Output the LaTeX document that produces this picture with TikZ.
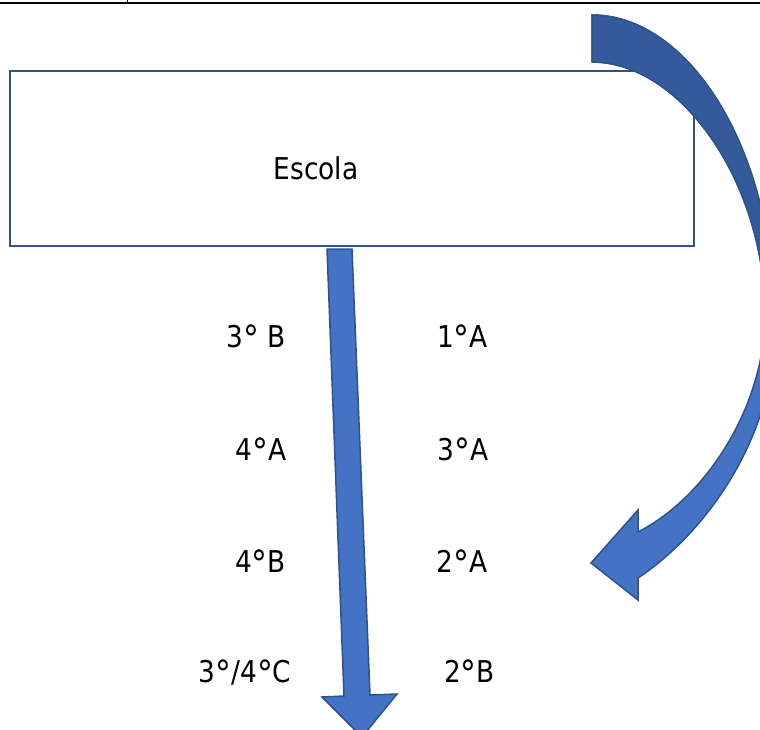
\documentclass[tikz,border=0pt]{standalone}
\usepackage{fontspec}
\setmainfont{DejaVu Sans}[FakeStretch=0.88]
\definecolor{arrowblue}{HTML}{4472C4}
\definecolor{arrowedge}{HTML}{2F528F}
\definecolor{arrowdark}{HTML}{345A9B}
\newcommand{\ordo}{{\fontsize{36}{36}\selectfont\raisebox{-4.5pt}{°}}}
\tikzset{
  lbl/.style={anchor=base,inner sep=0pt,font=\fontsize{30}{36}\selectfont},
  boxstyle/.style={draw=arrowedge,line width=1.5pt,fill=white},
  arrowshape/.style={fill=arrowblue,draw=arrowedge,line width=1.5pt,line join=miter},
  arrowshapedark/.style={fill=arrowdark,draw=arrowedge,line width=1.5pt,line join=miter},
}
\begin{document}
\begin{tikzpicture}[x=1pt,y=-1pt]
\useasboundingbox (0,0) rectangle (760,729);
\clip (0,0) rectangle (760,729);
% top rule
\draw[line width=2.6pt] (0,3) -- (760,3);
\draw[line width=1pt] (127,0) -- (127,3);
% box
\node[boxstyle,minimum width=684pt,minimum height=175pt,inner sep=0pt] (box) at (352,158.5) {};
\node[lbl] (escola) at (316,179) {Escola};
% straight arrow
\draw[arrowshape] (327,249) -- (352,249) -- (370,695) -- (397,694) -- (362,737) -- (322,697) -- (344,696) -- cycle;
% curved arrow
\def\curvedpath{(592,15) .. controls (685,15) and (772,140) .. (775,320) .. controls (778,430) and (710,530) .. (638,578) -- (638,600) -- (591,563) -- (638,510) -- (638,532) .. controls (710,495) and (767,400) .. (765,310) .. controls (763,180) and (680,62) .. (592,62) -- cycle}
\draw[arrowshape] \curvedpath;
\begin{scope}
\clip (560,0) rectangle (800,300);
\draw[arrowshapedark] \curvedpath;
\end{scope}
% labels
\node[lbl] (l3b) at (256,347) {3\ordo{} B};
\node[lbl] (l1a) at (462.5,347) {1\ordo A};
\node[lbl] (l4a) at (261,460) {4\ordo A};
\node[lbl] (l3a) at (463,460) {3\ordo A};
\node[lbl] (l4b) at (260.5,572) {4\ordo B};
\node[lbl] (l2a) at (462,572) {2\ordo A};
\node[lbl] (l34c) at (245,682) {3\ordo/4\ordo C};
\node[lbl] (l2b) at (469.5,682) {2\ordo B};
\end{tikzpicture}
\end{document}
